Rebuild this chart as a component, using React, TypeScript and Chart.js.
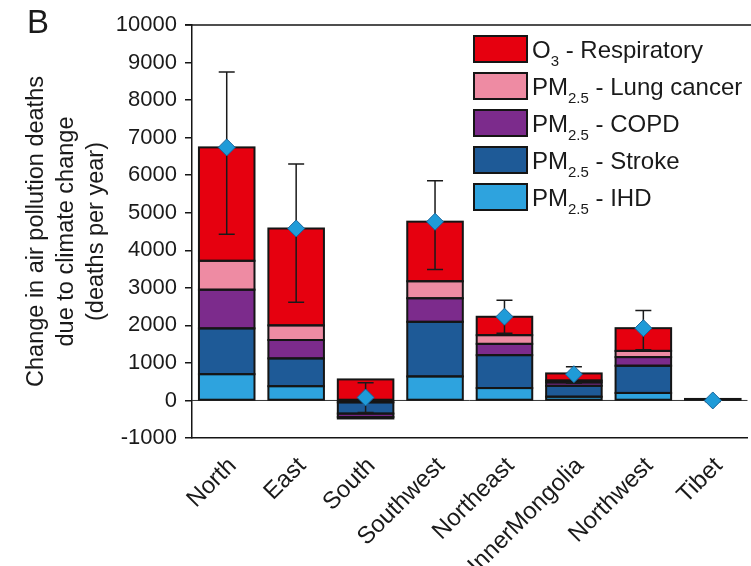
import React, { useEffect, useRef } from 'react';
import { Chart, registerables } from 'chart.js';

Chart.register(...registerables);

// ---- data ----
const categories = ['North', 'East', 'South', 'Southwest', 'Northeast', 'InnerMongolia', 'Northwest', 'Tibet'];
const ihd = [700, 380, -50, 640, 330, 100, 200, 0];
const stroke = [1220, 740, -300, 1455, 877, 290, 725, 0];
const copd = [1030, 490, -90, 627, 300, 90, 230, 0];
const lungCancer = [770, 390, -40, 453, 232, 50, 165, 0];
const o3Respiratory = [3020, 2580, 560, 1587, 490, 190, 605, 40];
const netTotal = [6740, 4580, 80, 4760, 2230, 700, 1925, 0];
const errLow = [4430, 2615, -320, 3485, 1790, 460, 1350, -30];
const errHigh = [8750, 6295, 470, 5850, 2670, 900, 2395, 30];
const yTickValues = [-1000, 0, 1000, 2000, 3000, 4000, 5000, 6000, 7000, 8000, 9000, 10000];
const yTitle = ['Change in air pollution deaths', 'due to climate change', '(deaths per year)'];
const panelLabel = 'B';

const COLORS = {
  o3: '#e6000f',
  lung: '#ee8ba3',
  copd: '#7c2b8c',
  stroke: '#1e5a97',
  ihd: '#2ea3de',
};

const legendItems = [
  { main: 'O', sub: '3', rest: ' - Respiratory', color: COLORS.o3 },
  { main: 'PM', sub: '2.5', rest: ' - Lung cancer', color: COLORS.lung },
  { main: 'PM', sub: '2.5', rest: ' - COPD', color: COLORS.copd },
  { main: 'PM', sub: '2.5', rest: ' - Stroke', color: COLORS.stroke },
  { main: 'PM', sub: '2.5', rest: ' - IHD', color: COLORS.ihd },
];

const FONT = "'Liberation Sans', Arial, Helvetica, sans-serif";
const TEXT = '#1a1a1a';
const LINE = '#151515';
const NET_INDEX = 5;

const overlayPlugin = {
  id: 'overlay',
  beforeDatasetsDraw(chart: any) {
    const { ctx, chartArea, scales } = chart;
    const y0 = scales.y.getPixelForValue(0);
    ctx.save();
    ctx.strokeStyle = '#333';
    ctx.lineWidth = 1;
    ctx.beginPath();
    ctx.moveTo(chartArea.left, y0);
    ctx.lineTo(chartArea.right, y0);
    ctx.stroke();
    ctx.restore();
  },
  beforeDatasetDraw(chart: any, args: any) {
    if (args.index !== NET_INDEX) return;
    const { ctx, scales } = chart;
    ctx.save();
    // outlines of stacked bar segments (shared edges)
    ctx.strokeStyle = LINE;
    ctx.lineWidth = 2;
    for (let d = 0; d < NET_INDEX; d++) {
      const meta = chart.getDatasetMeta(d);
      meta.data.forEach((el: any) => {
        const { x, y, base, width } = el.getProps(['x', 'y', 'base', 'width'], true);
        const top = Math.min(y, base);
        const h = Math.abs(base - y);
        if (h < 0.01) return;
        ctx.strokeRect(x - width / 2, top, width, h);
      });
    }
    // error bars
    ctx.strokeStyle = '#1a1a1a';
    ctx.lineWidth = 1.5;
    for (let i = 0; i < categories.length; i++) {
      const x = scales.x.getPixelForValue(i);
      const yh = scales.y.getPixelForValue(errHigh[i]);
      const yl = scales.y.getPixelForValue(errLow[i]);
      ctx.beginPath();
      ctx.moveTo(x, yh);
      ctx.lineTo(x, yl);
      ctx.moveTo(x - 8, yh);
      ctx.lineTo(x + 8, yh);
      ctx.moveTo(x - 8, yl);
      ctx.lineTo(x + 8, yl);
      ctx.stroke();
    }
    ctx.restore();
  },
  afterDraw(chart: any) {
    const { ctx, chartArea } = chart;
    ctx.save();
    // top frame line
    ctx.strokeStyle = LINE;
    ctx.lineWidth = 1.5;
    ctx.beginPath();
    ctx.moveTo(chartArea.left - 7, chartArea.top);
    ctx.lineTo(chart.width, chartArea.top);
    ctx.stroke();

    // panel label
    ctx.fillStyle = TEXT;
    ctx.font = `33px ${FONT}`;
    ctx.textBaseline = 'alphabetic';
    ctx.textAlign = 'left';
    ctx.fillText(panelLabel, 27, 33);

    // legend
    legendItems.forEach((it, i) => {
      const sy = 36 + i * 37;
      ctx.fillStyle = it.color;
      ctx.fillRect(474, sy, 53, 26);
      ctx.strokeStyle = LINE;
      ctx.lineWidth = 2;
      ctx.strokeRect(474, sy, 53, 26);
      const base = sy + 22;
      let x = 532;
      ctx.fillStyle = TEXT;
      ctx.font = `24px ${FONT}`;
      ctx.fillText(it.main, x, base);
      x += ctx.measureText(it.main).width;
      ctx.font = `15px ${FONT}`;
      ctx.fillText(it.sub, x, base + 8);
      x += ctx.measureText(it.sub).width;
      ctx.font = `24px ${FONT}`;
      ctx.fillText(it.rest, x, base);
    });
    ctx.restore();
  },
};

export default function App() {
  const ref = useRef<HTMLCanvasElement | null>(null);

  useEffect(() => {
    document.body.style.margin = '0';
    const canvas = ref.current;
    if (!canvas) return;
    const barBase = {
      type: 'bar' as const,
      borderWidth: 0,
      categoryPercentage: 1,
      barPercentage: 0.8,
      order: 1,
    };
    const chart = new Chart(canvas, {
      type: 'bar',
      data: {
        labels: categories,
        datasets: [
          { ...barBase, label: 'PM2.5 - IHD', data: ihd, backgroundColor: COLORS.ihd },
          { ...barBase, label: 'PM2.5 - Stroke', data: stroke, backgroundColor: COLORS.stroke },
          { ...barBase, label: 'PM2.5 - COPD', data: copd, backgroundColor: COLORS.copd },
          { ...barBase, label: 'PM2.5 - Lung cancer', data: lungCancer, backgroundColor: COLORS.lung },
          { ...barBase, label: 'O3 - Respiratory', data: o3Respiratory, backgroundColor: COLORS.o3 },
          {
            type: 'line' as const,
            label: 'Net',
            data: netTotal,
            showLine: false,
            pointStyle: 'rectRot',
            pointRadius: 8.5,
            pointBackgroundColor: '#1f9bd8',
            pointBorderColor: '#17639a',
            pointBorderWidth: 1,
            order: 0,
          } as any,
        ],
      },
      options: {
        responsive: false,
        animation: false,
        devicePixelRatio: 1,
        layout: { padding: { top: 25, right: 2, bottom: 0, left: 0 } },
        plugins: {
          legend: { display: false },
          tooltip: { enabled: false },
        },
        scales: {
          x: {
            stacked: true,
            grid: { display: false },
            border: { display: true, color: LINE, width: 1.5 },
            ticks: {
              color: TEXT,
              font: { family: FONT, size: 24 },
              maxRotation: 45,
              minRotation: 45,
              autoSkip: false,
              padding: 6,
              labelOffset: 6,
            },
            afterFit: (s: any) => {
              s.height = 128;
            },
          },
          y: {
            stacked: true,
            min: -1000,
            max: 10000,
            afterBuildTicks: (s: any) => {
              s.ticks = yTickValues.map((v) => ({ value: v }));
            },
            grid: {
              drawOnChartArea: false,
              drawTicks: true,
              tickLength: 7,
              tickColor: LINE,
              lineWidth: 1.5,
            },
            border: { display: true, color: LINE, width: 1.5 },
            ticks: {
              color: TEXT,
              font: { family: FONT, size: 22 },
              padding: 8,
              callback: (v: any) => String(v),
            },
            title: {
              display: true,
              text: yTitle,
              color: TEXT,
              font: { family: FONT, size: 23.5, lineHeight: 1.26 },
              padding: { top: 22, bottom: 0 },
            },
            afterFit: (s: any) => {
              s.width = 192;
            },
          },
        },
      } as any,
      plugins: [overlayPlugin],
    });
    return () => chart.destroy();
  }, []);

  return (
    <div style={{ position: 'relative', width: 751, height: 566, overflow: 'hidden', background: '#fff' }}>
      <canvas ref={ref} width={757} height={566} style={{ display: 'block' }} />
    </div>
  );
}
